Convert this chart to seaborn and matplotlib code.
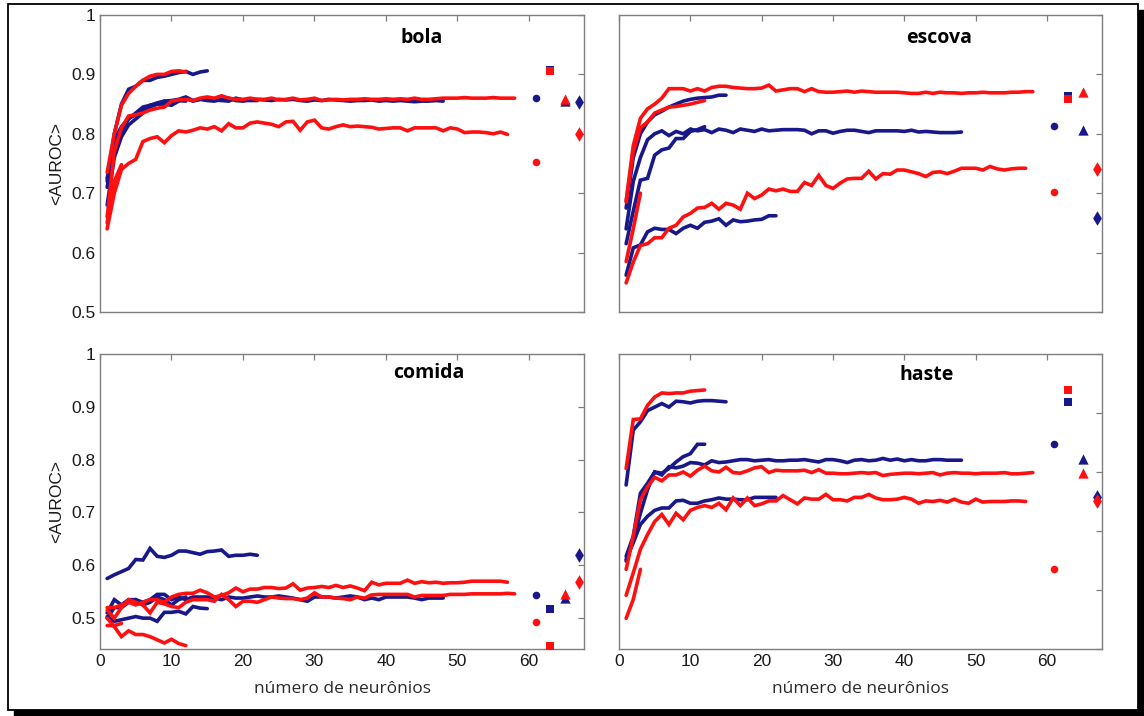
import numpy as np
import pandas as pd
import matplotlib
matplotlib.use("Agg")
import matplotlib.pyplot as plt
import seaborn as sns

# ---- dados: <AUROC> x numero de neuronios ----
# bola
bola_b15 = [0.72, 0.80, 0.85, 0.875, 0.88, 0.89, 0.89, 0.895, 0.897, 0.90,
            0.903, 0.905, 0.90, 0.904, 0.906]
bola_b12 = [0.725, 0.79, 0.812, 0.826, 0.832, 0.84, 0.848, 0.85, 0.855, 0.852,
            0.856, 0.855]
bola_b22 = [0.71, 0.78, 0.805, 0.825, 0.835, 0.845, 0.848, 0.852, 0.855, 0.856,
            0.858, 0.862, 0.856, 0.858, 0.86, 0.857, 0.856, 0.855, 0.86, 0.857,
            0.856, 0.856]
bola_b48 = [0.68, 0.76, 0.795, 0.815, 0.825, 0.835, 0.845, 0.85, 0.85, 0.848,
            0.855, 0.86, 0.855, 0.858, 0.856, 0.855, 0.858, 0.86, 0.856, 0.855,
            0.857, 0.858, 0.857, 0.856, 0.858, 0.857, 0.858, 0.856, 0.855, 0.857,
            0.856, 0.858, 0.857, 0.856, 0.855, 0.856, 0.856, 0.857, 0.855, 0.856,
            0.855, 0.856, 0.855, 0.854, 0.855, 0.855, 0.856, 0.855]
bola_r3 = [0.65, 0.72, 0.748]
bola_r12 = [0.735, 0.80, 0.848, 0.868, 0.88, 0.89, 0.897, 0.90, 0.90, 0.905,
            0.906, 0.904]
bola_r57 = [0.64, 0.70, 0.74, 0.75, 0.757, 0.787, 0.792, 0.795, 0.785, 0.797,
            0.805, 0.803, 0.806, 0.81, 0.808, 0.812, 0.805, 0.817, 0.81, 0.81,
            0.818, 0.82, 0.818, 0.816, 0.812, 0.82, 0.821, 0.806, 0.82, 0.823,
            0.81, 0.808, 0.812, 0.815, 0.812, 0.813, 0.812, 0.811, 0.808, 0.809,
            0.81, 0.81, 0.805, 0.81, 0.81, 0.81, 0.81, 0.805, 0.81, 0.808,
            0.802, 0.803, 0.803, 0.802, 0.80, 0.803, 0.799]
bola_r58 = [0.66, 0.77, 0.81, 0.83, 0.832, 0.835, 0.84, 0.843, 0.845, 0.855,
            0.857, 0.858, 0.856, 0.86, 0.862, 0.86, 0.864, 0.86, 0.858, 0.858,
            0.86, 0.858, 0.858, 0.86, 0.857, 0.858, 0.86, 0.857, 0.858, 0.86,
            0.856, 0.857, 0.858, 0.857, 0.858, 0.858, 0.859, 0.858, 0.858, 0.859,
            0.858, 0.859, 0.858, 0.86, 0.858, 0.858, 0.859, 0.86, 0.86, 0.86,
            0.861, 0.86, 0.86, 0.86, 0.861, 0.86, 0.86, 0.86]

# escova
esc_b12 = [0.615, 0.67, 0.722, 0.725, 0.764, 0.773, 0.776, 0.792, 0.792, 0.804,
           0.807, 0.812]
esc_b15 = [0.675, 0.76, 0.80, 0.82, 0.832, 0.838, 0.845, 0.85, 0.855, 0.858,
           0.86, 0.861, 0.862, 0.865, 0.865]
esc_b22 = [0.562, 0.608, 0.613, 0.635, 0.641, 0.639, 0.639, 0.632, 0.641, 0.646,
           0.641, 0.651, 0.653, 0.657, 0.646, 0.655, 0.652, 0.653, 0.655, 0.656,
           0.662, 0.662]
esc_b48 = [0.64, 0.72, 0.76, 0.79, 0.80, 0.805, 0.797, 0.804, 0.80, 0.808,
           0.805, 0.807, 0.802, 0.808, 0.806, 0.802, 0.808, 0.806, 0.804, 0.808,
           0.805, 0.806, 0.807, 0.807, 0.807, 0.806, 0.80, 0.805, 0.805, 0.801,
           0.804, 0.806, 0.806, 0.804, 0.802, 0.805, 0.805, 0.805, 0.805, 0.804,
           0.806, 0.803, 0.804, 0.803, 0.802, 0.802, 0.802, 0.803]
esc_r3 = [0.585, 0.64, 0.70]
esc_r12 = [0.685, 0.77, 0.81, 0.82, 0.835, 0.84, 0.845, 0.846, 0.848, 0.85,
           0.853, 0.856]
esc_r57 = [0.549, 0.584, 0.612, 0.615, 0.625, 0.625, 0.641, 0.646, 0.66, 0.666,
           0.675, 0.676, 0.683, 0.673, 0.683, 0.68, 0.673, 0.70, 0.691, 0.697,
           0.707, 0.704, 0.707, 0.703, 0.703, 0.718, 0.713, 0.73, 0.713, 0.708,
           0.717, 0.724, 0.725, 0.725, 0.737, 0.724, 0.733, 0.732, 0.739, 0.739,
           0.736, 0.733, 0.728, 0.735, 0.736, 0.733, 0.737, 0.742, 0.742, 0.742,
           0.739, 0.745, 0.741, 0.739, 0.741, 0.742, 0.742]
esc_r58 = [0.687, 0.78, 0.826, 0.842, 0.85, 0.86, 0.876, 0.876, 0.876, 0.872,
           0.876, 0.872, 0.878, 0.88, 0.88, 0.878, 0.877, 0.876, 0.876, 0.877,
           0.882, 0.872, 0.874, 0.876, 0.876, 0.871, 0.876, 0.871, 0.87, 0.87,
           0.871, 0.872, 0.87, 0.872, 0.871, 0.87, 0.87, 0.87, 0.87, 0.869,
           0.868, 0.868, 0.87, 0.868, 0.87, 0.869, 0.869, 0.868, 0.869, 0.869,
           0.87, 0.869, 0.869, 0.869, 0.87, 0.87, 0.871, 0.871]

# comida
com_b12 = [0.50, 0.52, 0.52, 0.53, 0.535, 0.525, 0.53, 0.54, 0.535, 0.525,
           0.535, 0.54]
com_b15 = [0.503, 0.494, 0.497, 0.50, 0.503, 0.50, 0.50, 0.494, 0.511, 0.511,
           0.513, 0.508, 0.522, 0.519, 0.518]
com_b22 = [0.575, 0.582, 0.588, 0.594, 0.611, 0.61, 0.632, 0.617, 0.615, 0.619,
           0.627, 0.627, 0.624, 0.621, 0.626, 0.627, 0.629, 0.617, 0.619, 0.619,
           0.621, 0.619]
com_b48 = [0.51, 0.535, 0.525, 0.535, 0.535, 0.53, 0.535, 0.545, 0.545, 0.535,
           0.54, 0.535, 0.54, 0.54, 0.54, 0.538, 0.535, 0.54, 0.538, 0.538,
           0.54, 0.542, 0.54, 0.54, 0.542, 0.54, 0.538, 0.535, 0.532, 0.54,
           0.54, 0.54, 0.538, 0.54, 0.542, 0.54, 0.535, 0.538, 0.535, 0.54,
           0.54, 0.54, 0.54, 0.538, 0.535, 0.538, 0.538, 0.538]
com_r3 = [0.486, 0.486, 0.49]
com_r12 = [0.50, 0.484, 0.465, 0.476, 0.469, 0.469, 0.465, 0.459, 0.453, 0.46,
           0.452, 0.448]
com_r57 = [0.52, 0.52, 0.525, 0.53, 0.525, 0.53, 0.535, 0.535, 0.53, 0.54,
           0.545, 0.547, 0.547, 0.553, 0.548, 0.54, 0.543, 0.548, 0.557, 0.55,
           0.555, 0.555, 0.558, 0.558, 0.556, 0.557, 0.565, 0.553, 0.557, 0.558,
           0.56, 0.558, 0.562, 0.558, 0.561, 0.557, 0.552, 0.568, 0.563, 0.566,
           0.566, 0.566, 0.572, 0.566, 0.569, 0.567, 0.568, 0.566, 0.567, 0.567,
           0.568, 0.57, 0.57, 0.57, 0.57, 0.57, 0.568]
com_r58 = [0.515, 0.50, 0.52, 0.535, 0.53, 0.525, 0.51, 0.53, 0.527, 0.522,
           0.52, 0.53, 0.535, 0.535, 0.535, 0.532, 0.545, 0.535, 0.522, 0.532,
           0.532, 0.53, 0.535, 0.54, 0.538, 0.537, 0.537, 0.535, 0.538, 0.548,
           0.54, 0.54, 0.538, 0.537, 0.535, 0.54, 0.538, 0.544, 0.545, 0.545,
           0.545, 0.545, 0.545, 0.54, 0.543, 0.543, 0.543, 0.543, 0.545, 0.545,
           0.545, 0.546, 0.546, 0.546, 0.546, 0.546, 0.547, 0.546]

# haste
has_b12 = [0.657, 0.691, 0.764, 0.781, 0.80, 0.798, 0.806, 0.817, 0.826, 0.831,
           0.847, 0.847]
has_b15 = [0.778, 0.871, 0.885, 0.904, 0.91, 0.916, 0.91, 0.92, 0.919, 0.917,
           0.92, 0.921, 0.921, 0.92, 0.919]
has_b22 = [0.652, 0.68, 0.711, 0.725, 0.735, 0.739, 0.739, 0.751, 0.752, 0.747,
           0.747, 0.751, 0.753, 0.756, 0.754, 0.754, 0.753, 0.753, 0.757, 0.757,
           0.757, 0.757]
has_b48 = [0.649, 0.685, 0.73, 0.77, 0.80, 0.795, 0.809, 0.807, 0.81, 0.816,
           0.815, 0.812, 0.819, 0.816, 0.817, 0.819, 0.821, 0.821, 0.819, 0.82,
           0.821, 0.819, 0.819, 0.82, 0.82, 0.821, 0.819, 0.817, 0.821, 0.821,
           0.819, 0.816, 0.82, 0.821, 0.819, 0.82, 0.823, 0.82, 0.822, 0.819,
           0.821, 0.819, 0.819, 0.821, 0.821, 0.82, 0.82, 0.82]
has_r3 = [0.552, 0.584, 0.635]
has_r12 = [0.806, 0.889, 0.89, 0.913, 0.927, 0.934, 0.933, 0.934, 0.934, 0.937,
           0.938, 0.939]
has_r57 = [0.591, 0.629, 0.669, 0.694, 0.716, 0.728, 0.711, 0.73, 0.719, 0.735,
           0.74, 0.743, 0.74, 0.747, 0.736, 0.756, 0.743, 0.756, 0.743, 0.746,
           0.751, 0.751, 0.76, 0.753, 0.746, 0.756, 0.754, 0.754, 0.762, 0.753,
           0.753, 0.751, 0.757, 0.757, 0.762, 0.756, 0.753, 0.753, 0.754, 0.757,
           0.754, 0.747, 0.751, 0.75, 0.752, 0.749, 0.754, 0.749, 0.747, 0.754,
           0.749, 0.75, 0.75, 0.75, 0.751, 0.751, 0.75]
has_r58 = [0.635, 0.691, 0.753, 0.775, 0.791, 0.785, 0.795, 0.795, 0.80, 0.793,
           0.803, 0.81, 0.802, 0.80, 0.808, 0.799, 0.798, 0.802, 0.807, 0.809,
           0.799, 0.803, 0.802, 0.802, 0.802, 0.803, 0.799, 0.804, 0.798, 0.798,
           0.797, 0.797, 0.798, 0.799, 0.798, 0.799, 0.794, 0.796, 0.797, 0.798,
           0.798, 0.797, 0.798, 0.799, 0.795, 0.798, 0.799, 0.798, 0.798, 0.797,
           0.798, 0.798, 0.798, 0.799, 0.797, 0.797, 0.798, 0.799]

# pontos isolados a direita: circulo, quadrado, triangulo, diamante
marker_x = [61, 63, 65, 67]
marker_shapes = ["o", "s", "^", "d"]
bola_pts_b = [0.861, 0.907, 0.855, 0.854]
bola_pts_r = [0.753, 0.906, 0.859, 0.800]
esc_pts_b = [0.813, 0.863, 0.806, 0.658]
esc_pts_r = [0.702, 0.859, 0.870, 0.741]
com_pts_b = [0.544, 0.518, 0.538, 0.620]
com_pts_r = [0.492, 0.447, 0.545, 0.569]
has_pts_b = [0.847, 0.919, 0.822, 0.758]
has_pts_r = [0.635, 0.939, 0.799, 0.750]

AZUL = "#18188a"
VERM = "#ff1010"

sns.set_style("white")
plt.rcParams["font.family"] = ["Liberation Sans", "DejaVu Sans"]

W, H = 1144, 716
fig = plt.figure(figsize=(W / 100, H / 100), dpi=100)

# moldura com sombra
fig.add_artist(plt.Rectangle((14 / W, 0), 1 - 14 / W, (H - 10) / H,
                             transform=fig.transFigure, color="black", zorder=-5))
fig.add_artist(plt.Rectangle((7.5 / W, 6 / H), (1138 - 7.5) / W, (710 - 4) / H,
                             transform=fig.transFigure, facecolor="white",
                             edgecolor="black", lw=1.3, zorder=-4))


def px_axes(x0, x1, y0, y1):
    return fig.add_axes([x0 / W, (H - y1) / H, (x1 - x0) / W, (y1 - y0) / H])


paineis = [
    ("bola", px_axes(100, 584, 15, 312), (0.5, 1.0),
     [bola_b12, bola_b15, bola_b22, bola_b48], [bola_r3, bola_r12, bola_r57, bola_r58],
     bola_pts_b, bola_pts_r, (0.664, 0.922)),
    ("escova", px_axes(619, 1102, 15, 312), (0.5, 1.0),
     [esc_b12, esc_b15, esc_b22, esc_b48], [esc_r3, esc_r12, esc_r57, esc_r58],
     esc_pts_b, esc_pts_r, (0.663, 0.922)),
    ("comida", px_axes(100, 584, 354, 649), (0.4416, 1.0),
     [com_b12, com_b15, com_b22, com_b48], [com_r3, com_r12, com_r57, com_r58],
     com_pts_b, com_pts_r, (0.68, 0.936)),
    ("haste", px_axes(619, 1102, 354, 649), (0.5, 1.0),
     [has_b12, has_b15, has_b22, has_b48], [has_r3, has_r12, has_r57, has_r58],
     has_pts_b, has_pts_r, (0.636, 0.93)),
]

for i, (nome, ax, ylim, azuis, vermelhos, pb, pr, tpos) in enumerate(paineis):
    for serie, cor in [(azuis, AZUL), (vermelhos, VERM)]:
        for vals in serie:
            n = np.arange(1, len(vals) + 1)
            sns.lineplot(x=n, y=vals, ax=ax, color=cor, lw=2.6, estimator=None,
                         solid_joinstyle="miter")
    for pts, cor in [(pb, AZUL), (pr, VERM)]:
        for xm, v, m in zip(marker_x, pts, marker_shapes):
            sz = 30 if m in ("o", "s") else 55
            sns.scatterplot(x=[xm], y=[v], ax=ax, marker=m, color=cor, s=sz,
                            linewidth=0, zorder=3)

    ax.set_xlim(0, 67.7)
    ax.set_ylim(*ylim)
    ax.set_xticks(range(0, 70, 10))
    ax.set_yticks([0.5, 0.6, 0.7, 0.8, 0.9, 1.0])
    ax.set_yticklabels(["0.5", "0.6", "0.7", "0.8", "0.9", "1"])
    ax.tick_params(direction="in", length=4, width=0.9, color="#7f7f7f",
                   top=True, right=True, labelsize=12.5, labelcolor="#1a1a1a")
    for sp in ax.spines.values():
        sp.set_color("#7f7f7f")
        sp.set_linewidth(1.0)
    ax.set_xlabel("")
    ax.set_ylabel("")
    if i < 2:
        ax.tick_params(labelbottom=False)
    else:
        ax.set_xlabel("número de neurônios", fontsize=12.5, family="Open Sans",
                      color="#2a2a2a", labelpad=9)
    if i % 2 == 1:
        ax.tick_params(labelleft=False)
    else:
        ax.set_ylabel("<AUROC>", fontsize=12.5, color="#1a1a1a", labelpad=5)
    ax.text(tpos[0], tpos[1], nome, transform=ax.transAxes, ha="center", va="center",
            fontsize=14, fontweight="bold", family="Open Sans", color="black")

fig.savefig("out.png", dpi=100)
